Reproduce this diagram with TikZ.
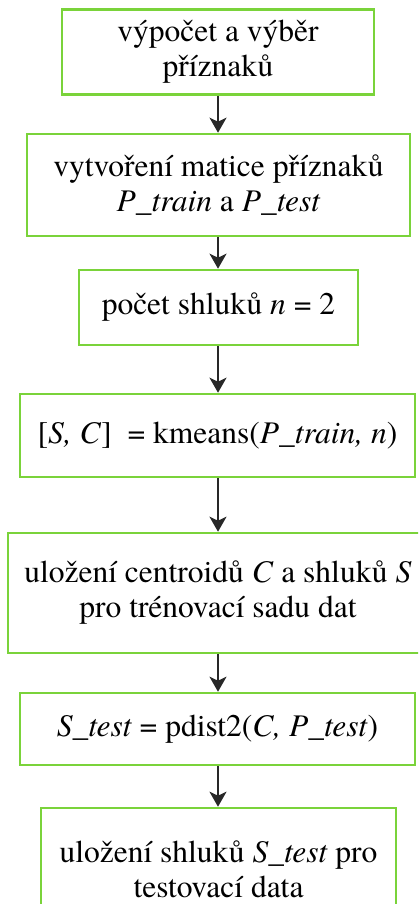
\documentclass[tikz,border=0pt]{standalone}
\usepackage{fontspec}
\setmainfont{texgyretermes}[Extension=.otf, UprightFont=*-regular,
  ItalicFont=*-italic, BoldFont=*-bold, BoldItalicFont=*-bolditalic]
\usetikzlibrary{arrows.meta}
\definecolor{boxgreen}{RGB}{122,211,58}
\definecolor{arrowgray}{RGB}{40,40,40}
\begin{document}
\begin{tikzpicture}[x=1pt,y=1pt,
  stepbox/.style={draw=boxgreen, line width=2.6pt, rectangle, align=center,
    inner sep=0pt, font=\fontsize{31.5}{35}\selectfont},
  flow/.style={draw=arrowgray, line width=2pt,
    -{Stealth[length=15pt,width=17pt,inset=4pt]}}]
  \useasboundingbox (0,0) rectangle (418,-904);
  \fill[white] (0,0) rectangle (418,-904);
  \begin{scope}
  \clip (0,0) rectangle (418,-904);
  \node[stepbox, minimum width=312pt, minimum height=85pt] (b1) at (218,-52)
    {výpočet a výběr\\příznaků};
  \node[stepbox, minimum width=383pt, minimum height=102pt] (b2) at (218.5,-185)
    {vytvoření matice příznaků\\\textit{P\_train} a \textit{P\_test}};
  \node[stepbox, minimum width=279pt, minimum height=75pt] (b3) at (218.5,-307.5)
    {počet shluků \textit{n} = 2};
  \node[stepbox, minimum width=395pt, minimum height=83pt] (b4) at (217.5,-435.5)
    {[\textit{S, C}]\ \ = kmeans(\textit{P\_train, n})};
  \node[stepbox, minimum width=420pt, minimum height=120pt] (b5) at (218,-593)
    {uložení centroidů \textit{C} a shluků \textit{S}\\pro trénovací sadu dat};
  \node[stepbox, minimum width=395pt, minimum height=72pt] (b6) at (217.5,-729)
    {\textit{S\_test} = pdist2(\textit{C, P\_test})};
  \node[stepbox, minimum width=355pt, minimum height=122pt] (b7) at (218.5,-869)
    {uložení shluků \textit{S\_test} pro\\testovací data};
  \end{scope}
  \foreach \a/\b in {b1/b2,b2/b3,b3/b4,b4/b5,b5/b6,b6/b7}
    \draw[flow] (\a.south -| 218,0) -- (\b.north -| 218,0);
\end{tikzpicture}
\end{document}
